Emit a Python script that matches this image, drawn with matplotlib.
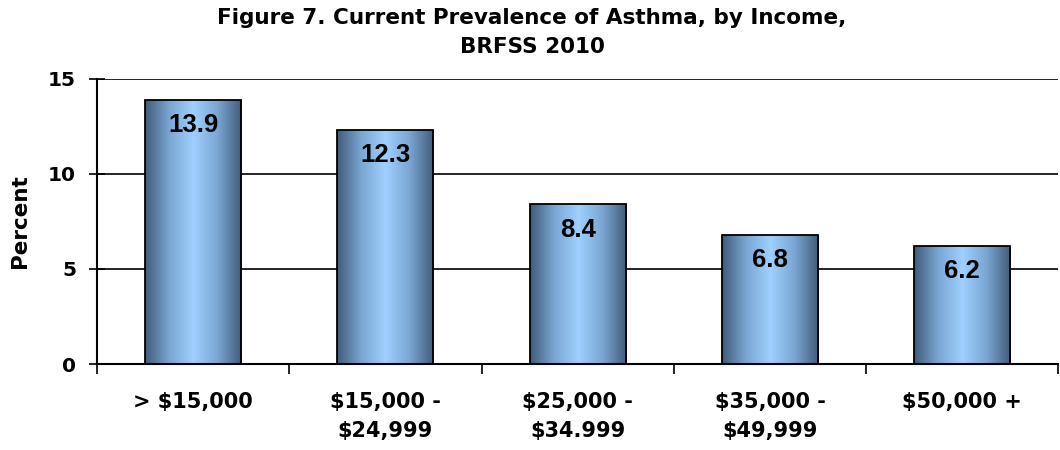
import matplotlib
matplotlib.use("Agg")
import matplotlib.pyplot as plt
import numpy as np
from matplotlib.colors import LinearSegmentedColormap

categories = ["> $15,000", "$15,000 -\n$24,999", "$25,000 -\n$34.999", "$35,000 -\n$49,999", "$50,000 +"]
values = [13.9, 12.3, 8.4, 6.8, 6.2]
yticks = [0, 5, 10, 15]

plt.rcParams['font.family'] = ['DejaVu Sans']
WIDE = ['DejaVu Sans']
ARIAL = ['Liberation Sans', 'DejaVu Sans']

fig = plt.figure(figsize=(10.6, 4.5), dpi=100)
ax = fig.add_axes([0.0915, 0.191, 0.907, 0.634])

cmap = LinearSegmentedColormap.from_list("bar", ["#415b79", "#7aa6d2", "#9fd0ff", "#7aa6d2", "#415b79"])
grad = np.linspace(0, 1, 256).reshape(1, -1)

x = np.arange(len(categories))
width = 0.5
ax.set_xlim(-0.5, len(categories) - 0.5)
ax.set_ylim(0, 15)

for yv in yticks[1:]:
    ax.axhline(yv, color="black", lw=1.2, zorder=0)

bars = ax.bar(x, values, width=width, facecolor="none", edgecolor="black", lw=1.3, zorder=3)
for b, v in zip(bars, values):
    x0, y0 = b.get_x(), b.get_y()
    w, h = b.get_width(), b.get_height()
    im = ax.imshow(grad, extent=[x0, x0 + w, y0, y0 + h], aspect="auto", cmap=cmap, zorder=2)
    im.set_clip_path(b)
    ax.text(b.get_x() + w / 2, v - 0.7, f"{v}", ha="center", va="top",
            fontsize=18.5, fontweight="bold", family=ARIAL, zorder=4)

ax.set_yticks(yticks)
ax.set_yticklabels([str(t) for t in yticks], fontsize=14.5, fontweight="bold", family=WIDE)
ax.set_xticks(np.arange(len(categories) + 1) - 0.5, minor=False)
ax.set_xticklabels([])
ax.set_xticks(x, minor=True)
ax.set_xticklabels(categories, minor=True, fontsize=15, fontweight="bold", family=WIDE,
                   linespacing=1.55)
ax.tick_params(axis="x", which="minor", length=0, pad=20)
ax.tick_params(axis="x", which="major", direction="out", length=7, width=1.2)
ax.tick_params(axis="y", direction="inout", length=12, width=1.2, pad=9)

for s in ["top", "right"]:
    ax.spines[s].set_visible(False)
ax.spines["left"].set_linewidth(1.5)
ax.spines["bottom"].set_linewidth(1.5)

ax.set_ylabel("Percent", fontsize=15.5, fontweight="bold", family=WIDE, labelpad=13)
fig.text(0.502, 0.982, "Figure 7. Current Prevalence of Asthma, by Income,\nBRFSS 2010",
         ha="center", va="top", fontsize=15.5, fontweight="bold", family=WIDE, linespacing=1.55)

fig.savefig("out.png", dpi=100)
